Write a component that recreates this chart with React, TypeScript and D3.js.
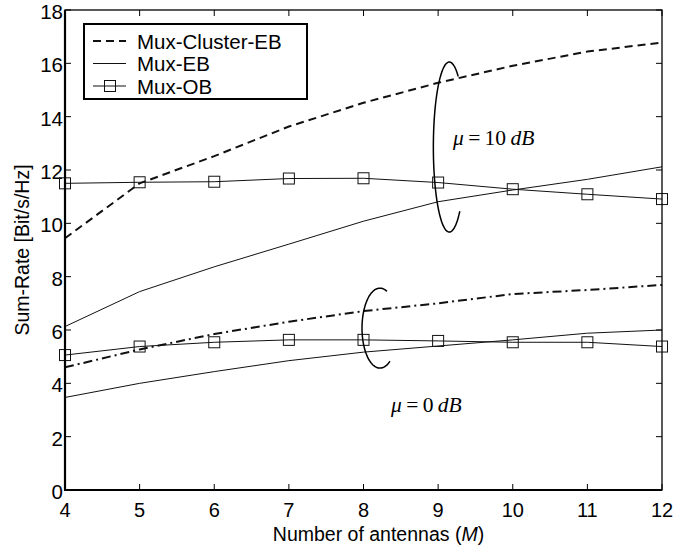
import { useEffect, useRef } from "react";
import * as d3 from "d3";

// values
const antennas = [4, 5, 6, 7, 8, 9, 10, 11, 12];
const clusterEB10 = [9.44, 11.5, 12.52, 13.63, 14.52, 15.27, 15.91, 16.44, 16.78];
const eb10 = [6.13, 7.44, 8.37, 9.22, 10.08, 10.81, 11.25, 11.65, 12.12];
const ob10 = [11.5, 11.54, 11.56, 11.68, 11.69, 11.53, 11.28, 11.09, 10.91];
const clusterEB0 = [4.6, 5.27, 5.85, 6.31, 6.71, 7.0, 7.35, 7.5, 7.69];
const eb0 = [3.47, 4.0, 4.44, 4.85, 5.17, 5.4, 5.63, 5.88, 6.0];
const ob0 = [5.06, 5.38, 5.54, 5.63, 5.63, 5.59, 5.54, 5.54, 5.38];
const yTicks = [0, 2, 4, 6, 8, 10, 12, 14, 16, 18];
const legendLabels = ["Mux-Cluster-EB", "Mux-EB", "Mux-OB"];

function SumRateChart() {
  const ref = useRef<HTMLDivElement>(null);

  useEffect(() => {
    const container = d3.select(ref.current);
    container.selectAll("*").remove();

    const width = 694;
    const height = 545;
    const margin = { top: 10, right: 32, bottom: 55, left: 65 };

    const svg = container
      .append("svg")
      .attr("width", width)
      .attr("height", height)
      .style("position", "absolute")
      .style("left", "0px")
      .style("top", "0px")
      .style("background", "#fff");

    const x = d3.scaleLinear().domain([4, 12]).range([margin.left, width - margin.right]);
    const y = d3.scaleLinear().domain([0, 18]).range([height - margin.bottom, margin.top]);

    const sans = "Liberation Sans, Arial, sans-serif";
    const serif = "Liberation Serif, Times New Roman, serif";

    // ticks (inward, all four sides)
    const tickLen = 6;
    const g = svg.append("g").attr("stroke", "#000").attr("stroke-width", 1);
    antennas.forEach((m) => {
      g.append("line").attr("x1", x(m)).attr("x2", x(m)).attr("y1", y(0)).attr("y2", y(0) - tickLen);
      g.append("line").attr("x1", x(m)).attr("x2", x(m)).attr("y1", y(18)).attr("y2", y(18) + tickLen);
    });
    yTicks.forEach((v) => {
      g.append("line").attr("x1", x(4)).attr("x2", x(4) + tickLen).attr("y1", y(v)).attr("y2", y(v));
      g.append("line").attr("x1", x(12)).attr("x2", x(12) - tickLen).attr("y1", y(v)).attr("y2", y(v));
    });

    // tick labels
    svg
      .append("g")
      .selectAll("text")
      .data(antennas)
      .join("text")
      .attr("x", (d) => x(d))
      .attr("y", y(0) + 27)
      .attr("text-anchor", "middle")
      .style("font-family", sans)
      .style("font-size", "20px")
      .text((d) => d);

    svg
      .append("g")
      .selectAll("text")
      .data(yTicks)
      .join("text")
      .attr("x", x(4) - 2)
      .attr("y", (d) => y(d) + 9)
      .attr("text-anchor", "end")
      .style("font-family", sans)
      .style("font-size", "20.5px")
      .text((d) => d);

    // axis titles
    const xt = svg
      .append("text")
      .attr("x", (x(4) + x(12)) / 2 + 15)
      .attr("y", height - 4.5)
      .attr("text-anchor", "middle")
      .style("font-family", sans)
      .style("font-size", "19.5px");
    xt.append("tspan").text("Number of antennas (");
    xt.append("tspan").style("font-style", "italic").text("M");
    xt.append("tspan").text(")");

    svg
      .append("text")
      .attr("transform", `translate(29,${(y(0) + y(18)) / 2}) rotate(-90)`)
      .attr("text-anchor", "middle")
      .style("font-family", sans)
      .style("font-size", "19.5px")
      .text("Sum-Rate [Bit/s/Hz]");

    // series
    const line = d3
      .line<number>()
      .x((_, i) => x(antennas[i]))
      .y((d) => y(d));

    const series = [
      { values: clusterEB10, dash: "8,5", width: 2, marker: false },
      { values: eb10, dash: null, width: 1, marker: false },
      { values: ob10, dash: null, width: 1, marker: true },
      { values: clusterEB0, dash: "9,4,2,4", width: 2, marker: false },
      { values: eb0, dash: null, width: 1, marker: false },
      { values: ob0, dash: null, width: 1, marker: true },
    ];

    series.forEach((s) => {
      svg
        .append("path")
        .datum(s.values)
        .attr("fill", "none")
        .attr("stroke", "#111")
        .attr("stroke-width", s.width)
        .attr("stroke-dasharray", s.dash)
        .attr("d", line);
      if (s.marker) {
        svg
          .append("g")
          .selectAll("rect")
          .data(s.values)
          .join("rect")
          .attr("x", (_, i) => x(antennas[i]) - 5.5)
          .attr("y", (d) => y(d) - 5.5)
          .attr("width", 11)
          .attr("height", 11)
          .attr("fill", "none")
          .attr("stroke", "#111")
          .attr("stroke-width", 1);
      }
    });

    // grouping ellipses + labels
    const arcs = [
      { cx: 9.15, cy: 12.86, rx: 0.214, ry: 3.19, start: -56, end: 47 },
      { cx: 8.22, cy: 6.07, rx: 0.24, ry: 1.5, start: -67, end: 55 },
    ];
    arcs.forEach((a) => {
      const thetas = d3.range(a.start, a.end - 360 - 1, -3);
      const pts = thetas.map((t) => {
        const r = (t * Math.PI) / 180;
        return [x(a.cx) + (x(a.cx + a.rx) - x(a.cx)) * Math.cos(r), y(a.cy) + (y(a.cy - a.ry) - y(a.cy)) * Math.sin(r)];
      });
      svg
        .append("path")
        .attr("d", d3.line().curve(d3.curveBasis)(pts as [number, number][]))
        .attr("fill", "none")
        .attr("stroke", "#000")
        .attr("stroke-width", 1.5);
    });

    const muLabels = [
      { m: 9.2, v: 12.94, val: "10" },
      { m: 8.37, v: 2.94, val: "0" },
    ];
    muLabels.forEach((l) => {
      const t = svg
        .append("text")
        .attr("x", x(l.m))
        .attr("y", y(l.v))
        .style("font-family", serif)
        .style("font-size", "21.5px");
      t.append("tspan").style("font-style", "italic").text("μ");
      t.append("tspan").text("\u2009=\u2009" + l.val + "\u2009");
      t.append("tspan").style("font-style", "italic").text("dB");
    });

    // frame
    svg
      .append("rect")
      .attr("x", x(4))
      .attr("y", y(18))
      .attr("width", x(12) - x(4))
      .attr("height", y(0) - y(18))
      .attr("fill", "none")
      .attr("stroke", "#000")
      .attr("stroke-width", 1.3);
    svg
      .append("path")
      .attr("d", `M${x(4)},${y(18)}V${y(0)}H${x(12)}`)
      .attr("fill", "none")
      .attr("stroke", "#000")
      .attr("stroke-width", 2.2);

    // legend
    const lx = 84;
    const ly = 24;
    const legend = svg.append("g");
    legend
      .append("rect")
      .attr("x", lx)
      .attr("y", ly)
      .attr("width", 223)
      .attr("height", 75)
      .attr("fill", "#fff")
      .attr("stroke", "#000")
      .attr("stroke-width", 2);
    const rows = [
      { dash: "8,5", width: 2, marker: false },
      { dash: null, width: 1, marker: false },
      { dash: null, width: 1, marker: true },
    ];
    rows.forEach((r, i) => {
      const ry = ly + 17 + i * 22.5;
      legend
        .append("line")
        .attr("x1", lx + 9)
        .attr("x2", lx + 42)
        .attr("y1", ry)
        .attr("y2", ry)
        .attr("stroke", "#111")
        .attr("stroke-width", r.width)
        .attr("stroke-dasharray", r.dash);
      if (r.marker) {
        legend
          .append("rect")
          .attr("x", lx + 26 - 5.5)
          .attr("y", ry - 5.5)
          .attr("width", 11)
          .attr("height", 11)
          .attr("fill", "none")
          .attr("stroke", "#111");
      }
      legend
        .append("text")
        .attr("x", lx + 53)
        .attr("y", ry + 7.5)
        .style("font-family", sans)
        .style("font-size", "20.5px")
        .text(legendLabels[i]);
    });
  }, []);

  return <div ref={ref} />;
}

export default function App() {
  return <SumRateChart />;
}
